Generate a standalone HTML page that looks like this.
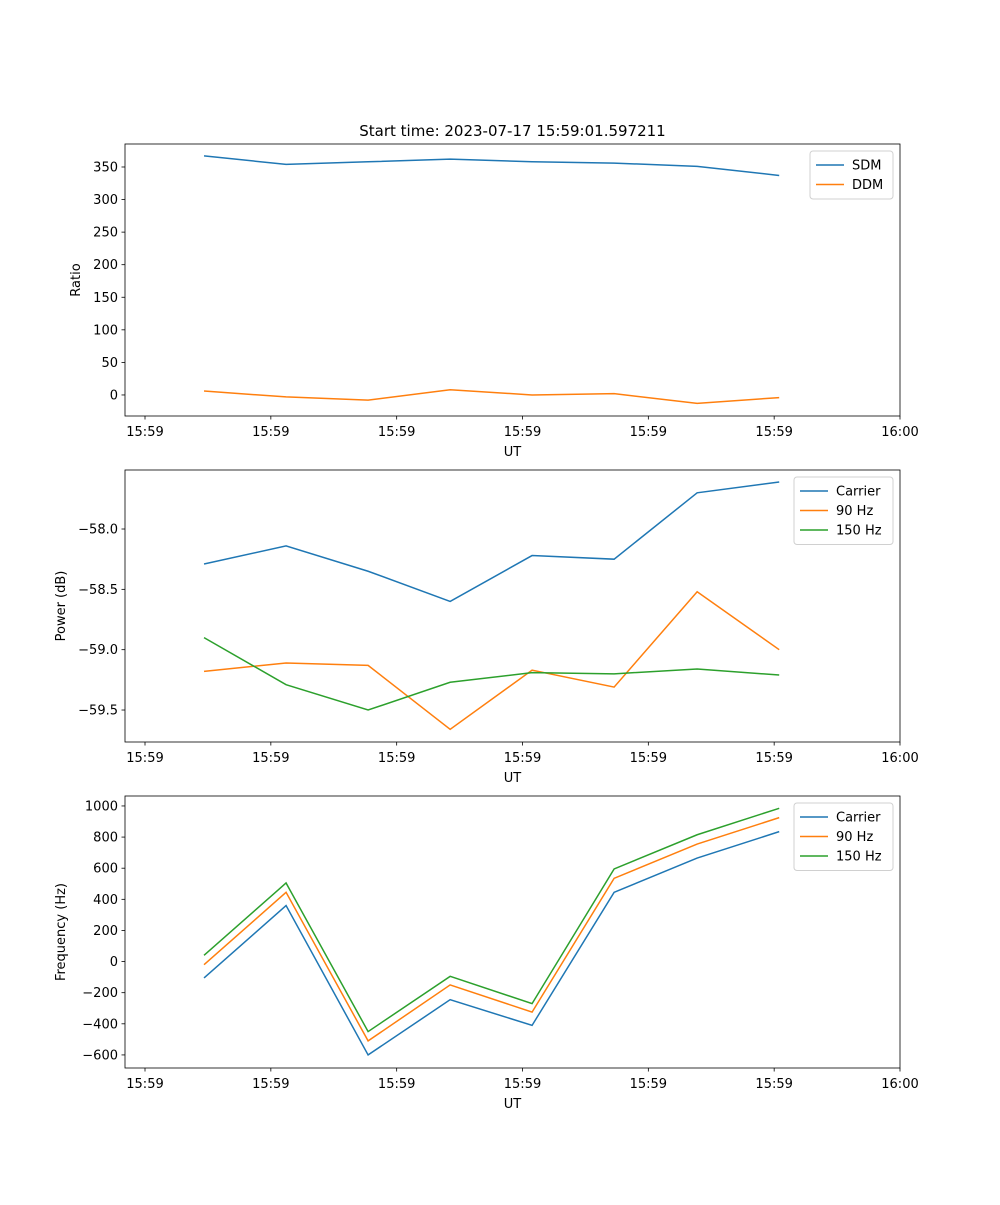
<!DOCTYPE html>
<html><head><meta charset="utf-8"><style>
body{margin:0;background:#fff;}
svg text{font-family:"DejaVu Sans","Liberation Sans",sans-serif;font-size:13px;fill:#000;}
</style></head><body>
<svg id="fig" width="1000" height="1200" xmlns="http://www.w3.org/2000/svg">
<rect width="1000" height="1200" fill="#fff"/>
<text x="512.5" y="136" text-anchor="middle" font-size="15" style="font-size:15px">Start time: 2023-07-17 15:59:01.597211</text>
</svg>
<script>
// times in seconds after 15:59:00
const times=[4.69,11.21,17.73,24.25,30.76,37.28,43.88,50.4];
const tickSecs=[0,10,20,30,40,50,60];
const tickLabels=["15:59","15:59","15:59","15:59","15:59","15:59","16:00"];
const sdm=[367,354,358,362,358,356,351,337];
const ddm=[6,-3,-8,8,0,2,-13,-4];
const pCarrier=[-58.29,-58.14,-58.35,-58.60,-58.22,-58.25,-57.70,-57.61];
const p90=[-59.18,-59.11,-59.13,-59.66,-59.17,-59.31,-58.52,-59.00];
const p150=[-58.90,-59.29,-59.50,-59.27,-59.19,-59.20,-59.16,-59.21];
const fCarrier=[-105,360,-600,-245,-410,445,665,835];
const f90=[-20,445,-510,-150,-325,535,755,925];
const f150=[40,505,-450,-95,-270,595,815,985];
const yTicks1=[0,50,100,150,200,250,300,350];
const yTicks2=[-59.5,-59.0,-58.5,-58.0];
const yTicks3=[-600,-400,-200,0,200,400,600,800,1000];

const NS="http://www.w3.org/2000/svg";
const svg=document.getElementById('fig');
const C=['#1f77b4','#ff7f0e','#2ca02c'];
function mk(tag,attrs,parent){const e=document.createElementNS(NS,tag);for(const k in attrs)e.setAttribute(k,attrs[k]);(parent||svg).appendChild(e);return e;}
const L=125,R=900,xmin=-1.59,xmax=60.0;
const xs=t=>L+(t-xmin)/(xmax-xmin)*(R-L);

function panel(name,top,bottom,ymin,ymax,yt,fmt,ylabel,series,names,legW){
  const g=mk('g',{});
  
  
  const ys=v=>bottom-(v-ymin)/(ymax-ymin)*(bottom-top);
  const clip=mk('clipPath',{id:'c'+name},g);mk('rect',{x:L,y:top,width:R-L,height:bottom-top},clip);
  series.forEach((s,i)=>{
    const p=mk('polyline',{points:times.map((t,j)=>xs(t)+','+ys(s[j])).join(' '),fill:'none',stroke:C[i],'stroke-width':1.5,'clip-path':'url(#c'+name+')'},g);
    
    
  });
  const fr=mk('rect',{x:L,y:top,width:R-L,height:bottom-top,fill:'none',stroke:'#000','stroke-width':0.8},g);
  
  
  tickSecs.forEach((t,i)=>{const x=xs(t);mk('line',{x1:x,x2:x,y1:bottom,y2:bottom+3.5,stroke:'#000','stroke-width':0.8},g);
    const tx=mk('text',{x:x,y:bottom+20,'text-anchor':'middle'},g);tx.textContent=tickLabels[i];
    
    });
  yt.forEach(v=>{const y=ys(v);mk('line',{x1:L-3.5,x2:L,y1:y,y2:y,stroke:'#000','stroke-width':0.8},g);
    const tx=mk('text',{x:L-7,y:y+4.5,'text-anchor':'end'},g);tx.textContent=fmt(v);
    
    });
  const xl=mk('text',{x:(L+R)/2,y:bottom+40,'text-anchor':'middle'},g);xl.textContent='UT';
  
  
  const cy=(top+bottom)/2, lx=ylabel==='Ratio'?80:65;
  const yl=mk('text',{x:lx,y:cy,'text-anchor':'middle',transform:'rotate(-90 '+lx+' '+cy+')'},g);yl.textContent=ylabel;
  
  
  const lh=names.length*19.5+9, lxp=R-7-legW;
  const lg=mk('g',{},g);
  
  
  mk('rect',{x:lxp,y:top+7,width:legW,height:lh,rx:3,fill:'#fff',stroke:'#ccc','stroke-width':1,opacity:0.9},lg);
  names.forEach((n,i)=>{const yy=top+21+i*19.5;
    mk('line',{x1:lxp+6,x2:lxp+34,y1:yy,y2:yy,stroke:C[i],'stroke-width':1.5},lg);
    const t=mk('text',{x:lxp+42,y:yy+4.5},lg);t.textContent=n;
    
    });
}
panel('ratio-panel',144,416,-32.3,385.3,yTicks1,v=>String(v),'Ratio',[sdm,ddm],['SDM','DDM'],83);
panel('power-panel',470,742,-59.765,-57.511,yTicks2,v=>'\u2212'+Math.abs(v).toFixed(1),'Power (dB)',[pCarrier,p90,p150],['Carrier','90 Hz','150 Hz'],99);
panel('frequency-panel',796,1068,-684,1064,yTicks3,v=>v<0?'\u2212'+Math.abs(v):String(v),'Frequency (Hz)',[fCarrier,f90,f150],['Carrier','90 Hz','150 Hz'],99);
</script>
</body></html>
